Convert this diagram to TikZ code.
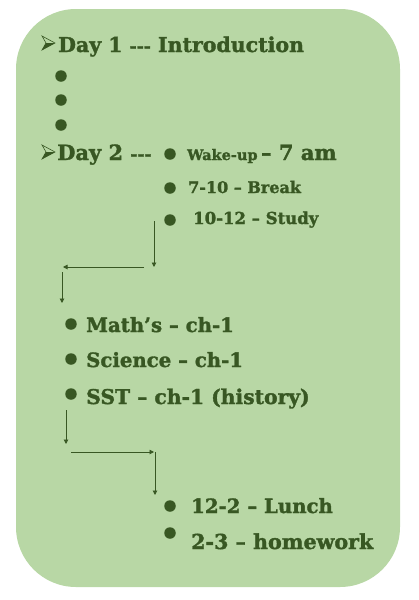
\documentclass[tikz,border=0pt]{standalone}
\usepackage{fontspec}
\setmainfont{DejaVu Serif}[BoldFeatures={FakeBold=1.6}]
\usetikzlibrary{arrows.meta}
\definecolor{boxfill}{HTML}{B8D7A5}
\definecolor{ink}{HTML}{385723}
\newcommand{\fs}[1]{\fontsize{#1}{#1}\selectfont}
\newcommand{\tridash}{{\fs{17}-{}-{}-}}
\newcommand{\pointer}[1]{%
  \begin{scope}[shift={(#1)}]
    \fill[ink] (-6,7) -- (-2,0) -- (7,0) -- cycle;
    \draw[ink, line width=0.6pt, line join=miter] (-6,-7) -- (7,0) -- (-6,7) -- (-2,0) -- cycle;
  \end{scope}}
\begin{document}
\begin{tikzpicture}[x=1pt,y=-1pt,
  txt/.style={anchor=base west, inner sep=0pt, text=ink, font=\bfseries},
  dot/.style={circle, fill=ink, inner sep=0pt, minimum width=10.5pt, minimum height=11.5pt},
  conn/.style={draw=ink, line width=0.9pt, -{Triangle[length=4.5pt,width=4.5pt]}}]
\useasboundingbox (0,0) rectangle (419,600);
\fill[boxfill, rounded corners=60pt] (16,9) rectangle (400,587);
% Day 1
\coordinate (p1) at (48,43);
\pointer{p1}
\node[txt, font=\bfseries\fs{20.5}] (d1) at (58,52) {Day 1 \tridash{} Introduction};
\node[dot] (e1) at (61,76) {};
\node[dot] (e2) at (61,100) {};
\node[dot] (e3) at (61,125) {};
% Day 2
\coordinate (p2) at (48,152);
\pointer{p2}
\node[txt, font=\bfseries\fs{21}] (d2) at (57,160) {Day 2 \tridash};
\node[dot] (w0) at (170,154) {};
\node[txt] (w1) at (187,160) {{\fs{14.5}Wake-up} {\fs{21}– 7 am}};
\node[dot] (w2) at (170,188) {};
\node[txt, font=\bfseries\fs{16}] (br) at (188,193) {7-10 – Break};
\node[dot] (w3) at (170,220) {};
\node[txt, font=\bfseries\fs{16.5}] (st) at (193,224) {10-12 – Study};
% arrows 1
\coordinate (a1) at (154,221);
\coordinate (a2) at (154,267);
\coordinate (a3) at (144,267);
\coordinate (a4) at (63,267);
\coordinate (a5) at (62,272);
\coordinate (a6) at (62,303);
\draw[conn] (a1) -- (a2);
\draw[conn] (a3) -- (a4);
\draw[conn] (a5) -- (a6);
% subjects
\node[dot] (s1) at (71,324) {};
\node[txt, font=\bfseries\fs{19.7}] (m1) at (86,332) {Math’s – ch-1};
\node[dot] (s2) at (71,359) {};
\node[txt, font=\bfseries\fs{19.7}] (m2) at (86,367) {Science – ch-1};
\node[dot] (s3) at (71,394) {};
\node[txt, font=\bfseries\fs{20.3}] (m3) at (86,404) {SST – ch-1 (history)};
% arrows 2
\coordinate (b1) at (66,410);
\coordinate (b2) at (66,444);
\coordinate (b3) at (71,452);
\coordinate (b4) at (154,452);
\coordinate (b5) at (155,452);
\coordinate (b6) at (155,495);
\draw[conn] (b1) -- (b2);
\draw[conn] (b3) -- (b4);
\draw[conn] (b5) -- (b6);
% afternoon
\node[dot] (l1) at (170,506) {};
\node[txt, font=\bfseries\fs{19.7}] (lu) at (191,513) {12-2 – Lunch};
\node[dot] (l2) at (170,533) {};
\node[txt, font=\bfseries\fs{20.6}] (hw) at (191,549) {2-3 – homework};
\end{tikzpicture}
\end{document}
